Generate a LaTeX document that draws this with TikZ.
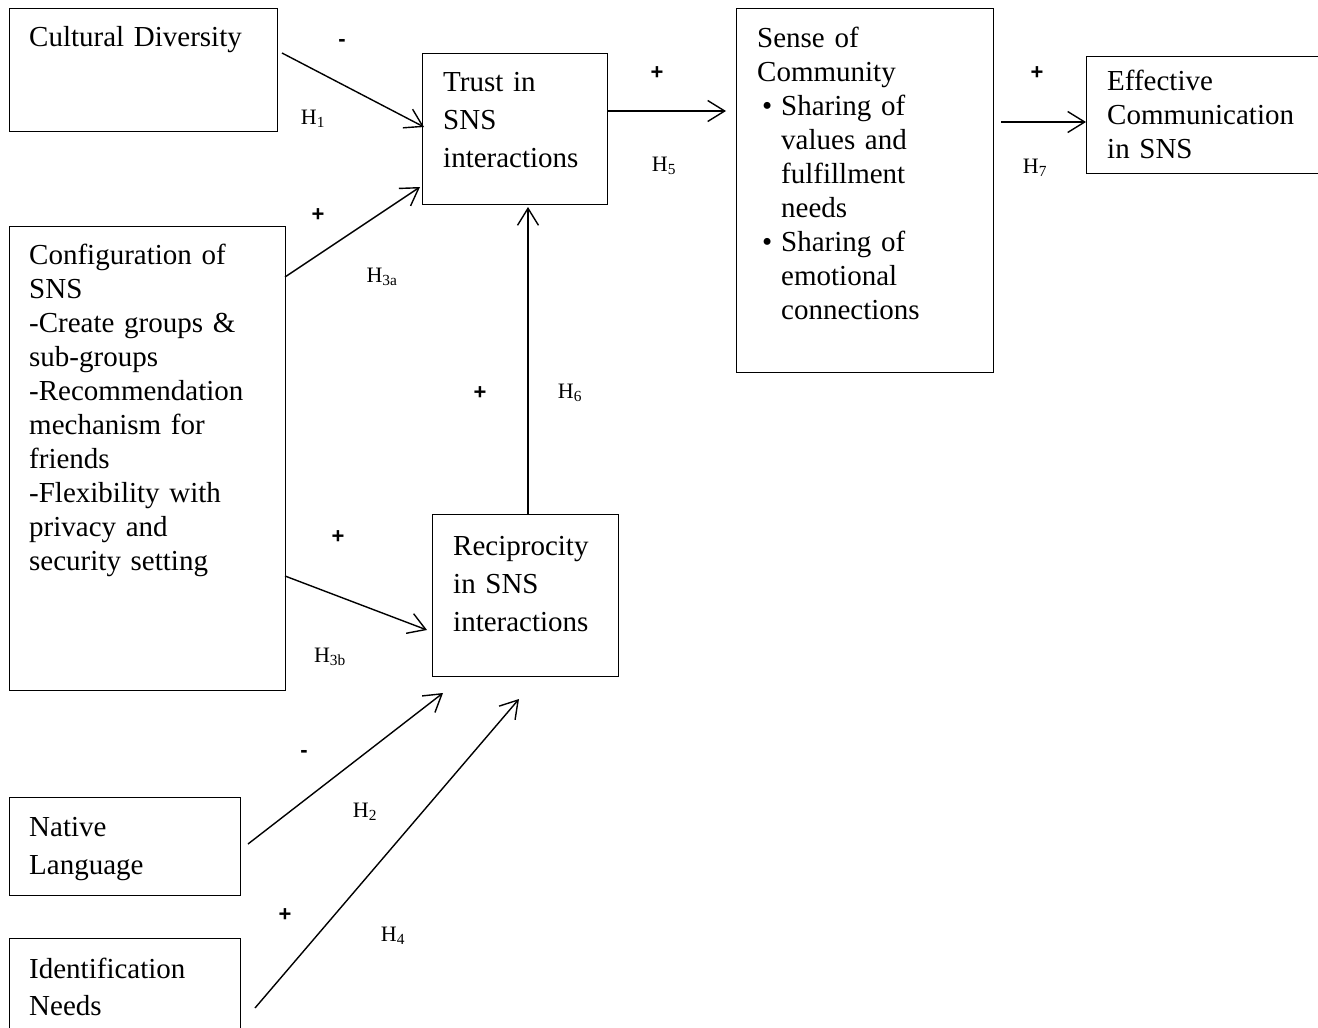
\documentclass[tikz,border=0pt]{standalone}
\usepackage{fontspec}
\setmainfont{Liberation Serif}
\newfontfamily\arialfont{Liberation Sans}
\usetikzlibrary{arrows.meta}
\begin{document}
\begin{tikzpicture}[x=1pt,y=-1pt,
  boxst/.style={draw, line width=1.3pt, anchor=north west, inner sep=0pt},
  txt/.style={anchor=base west, inner sep=0pt, align=left, text width=300pt},
  ls/.style={font=\fontsize{29}{34}\selectfont},
  ll/.style={font=\fontsize{29}{38}\selectfont},
  arr/.style={line width=1.4pt, -{Straight Barb[length=17pt,width=21pt,line width=1.4pt]}},
  sgn/.style={font=\arialfont\bfseries\fontsize{22}{22}\selectfont, inner sep=0pt},
  hyp/.style={font=\fontsize{22}{24}\selectfont, inner sep=0pt}]
\useasboundingbox (0,0) rectangle (1318,1028);
\fill[white] (0,0) rectangle (1318,1028);
% boxes
\node[boxst, minimum width=268pt, minimum height=123pt] (cd) at (9,8) {};
\node[boxst, minimum width=185pt, minimum height=151pt] (trust) at (422,53) {};
\node[boxst, minimum width=257pt, minimum height=364pt] (soc) at (736,8) {};
\node[boxst, minimum width=250pt, minimum height=117pt] (eff) at (1086,56) {};
\node[boxst, minimum width=276pt, minimum height=464pt] (cfg) at (9,226) {};
\node[boxst, minimum width=186pt, minimum height=162pt] (rec) at (432,514) {};
\node[boxst, minimum width=231pt, minimum height=98pt] (nat) at (9,797) {};
\node[boxst, minimum width=231pt, minimum height=110pt] (idn) at (9,938) {};
% texts
\node[txt, ls] (cdt) at (29,46) {Cultural Diversity};
\node[txt, ll] (trustt) at (443,91) {Trust in\\SNS\\interactions};
\node[txt, ls] (soct) at (757,47) {Sense of\\Community\\\makebox[24pt][l]{\,•}Sharing of\\\hspace*{24pt}values and\\\hspace*{24pt}fulfillment\\\hspace*{24pt}needs\\\makebox[24pt][l]{\,•}Sharing of\\\hspace*{24pt}emotional\\\hspace*{24pt}connections};
\node[txt, ls] (efft) at (1107,90) {Effective\\Communication\\in SNS};
\node[txt, ls] (cfgt) at (29,264) {Configuration of\\SNS\\-Create groups \&\\sub-groups\\-Recommendation\\mechanism for\\friends\\-Flexibility with\\privacy and\\security setting};
\node[txt, ll] (rect) at (453,555) {Reciprocity\\in SNS\\interactions};
\node[txt, ll] (natt) at (29,836) {Native\\Language};
\node[txt, font=\fontsize{29}{37}\selectfont] (idnt) at (29,978) {Identification\\Needs};
% connector ends
\coordinate (p1s) at (282,53);   \coordinate (p1e) at (424,127);
\coordinate (p3as) at (285,277); \coordinate (p3ae) at (420,187);
\coordinate (p5s) at (607,111);  \coordinate (p5e) at (726,111);
\coordinate (p7s) at (1001,122); \coordinate (p7e) at (1086,122);
\coordinate (p6s) at (528,514);  \coordinate (p6e) at (528,207);
\coordinate (p3bs) at (285,576); \coordinate (p3be) at (427,630);
\coordinate (p2s) at (248,844);  \coordinate (p2e) at (443,693);
\coordinate (p4s) at (255,1008); \coordinate (p4e) at (519,699);
\draw[arr] (p1s) -- (p1e);
\draw[arr] (p3as) -- (p3ae);
\draw[arr] (p5s) -- (p5e);
\draw[arr] (p7s) -- (p7e);
\draw[arr] (p6s) -- (p6e);
\draw[arr] (p3bs) -- (p3be);
\draw[arr] (p2s) -- (p2e);
\draw[arr] (p4s) -- (p4e);
% labels
\node[sgn] (s1) at (342,43) {-};
\node[hyp] (h1) at (313,119) {H\textsubscript{1}};
\node[sgn] (s3a) at (318,215) {+};
\node[hyp] (h3a) at (382,277) {H\textsubscript{3a}};
\node[sgn] (s5) at (657,73) {+};
\node[hyp] (h5) at (664,166) {H\textsubscript{5}};
\node[sgn] (s7) at (1037,73) {+};
\node[hyp] (h7) at (1035,168) {H\textsubscript{7}};
\node[sgn] (s6) at (480,393) {+};
\node[hyp] (h6) at (570,393) {H\textsubscript{6}};
\node[sgn] (s3b) at (338,537) {+};
\node[hyp] (h3b) at (330,657) {H\textsubscript{3b}};
\node[sgn] (s2) at (304,754) {-};
\node[hyp] (h2) at (365,812) {H\textsubscript{2}};
\node[sgn] (s4) at (285,915) {+};
\node[hyp] (h4) at (393,936) {H\textsubscript{4}};
\end{tikzpicture}
\end{document}
